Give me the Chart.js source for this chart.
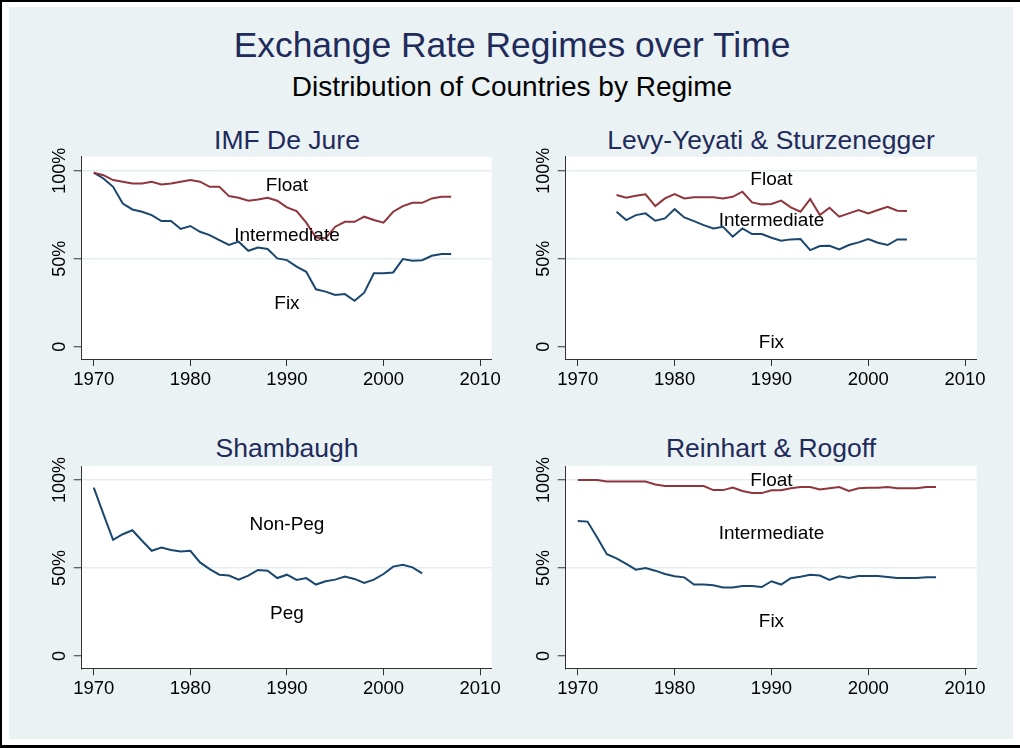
<!DOCTYPE html>
<html>
<head>
<meta charset="utf-8">
<script src="https://cdn.jsdelivr.net/npm/chart.js@4.4.1/dist/chart.umd.min.js"></script>
<style>
  html, body { margin: 0; padding: 0; background: #fff; overflow: hidden; }
  #frame { position: relative; width: 1020px; height: 748px; background: #fff; overflow: hidden;
           font-family: "Liberation Sans", Arial, sans-serif; }
  .edge { position: absolute; background: #000; }
  #bg { position: absolute; left: 9px; top: 7px; width: 1004px; height: 732px; background: #eaf2f3; }
  .ttl { position: absolute; text-align: center; line-height: 1; white-space: nowrap; }
  canvas { position: absolute; }
</style>
</head>
<body>
<div id="frame">
  <div class="edge" style="left:0;top:0;width:1020px;height:2px"></div>
  <div class="edge" style="left:0;top:0;width:2px;height:748px"></div>
  <div class="edge" style="left:0;top:745px;width:1020px;height:3px"></div>
  <div id="bg"></div>
  <div class="ttl" style="left:12px;width:1000px;top:28px;font-size:35.4px;color:#1f2b5a">Exchange Rate Regimes over Time</div>
  <div class="ttl" style="left:12px;width:1000px;top:73px;font-size:28px;color:#000">Distribution of Countries by Regime</div>
  <div class="ttl" style="left:-13px;width:600px;top:127px;font-size:26.5px;color:#1f2b5a">IMF De Jure</div>
  <div class="ttl" style="left:471px;width:600px;top:127px;font-size:26.5px;color:#1f2b5a">Levy-Yeyati &amp; Sturzenegger</div>
  <div class="ttl" style="left:-13px;width:600px;top:435px;font-size:26.5px;color:#1f2b5a">Shambaugh</div>
  <div class="ttl" style="left:471px;width:600px;top:435px;font-size:26.5px;color:#1f2b5a">Reinhart &amp; Rogoff</div>
  <canvas id="c1" width="480" height="255" style="left:30px;top:140px"></canvas>
  <canvas id="c2" width="480" height="255" style="left:515px;top:140px"></canvas>
  <canvas id="c3" width="480" height="255" style="left:30px;top:450px"></canvas>
  <canvas id="c4" width="480" height="255" style="left:515px;top:450px"></canvas>
</div>
<script>
// tick labels
const xTicks = [1970, 1980, 1990, 2000, 2010];
const yTicks = [0, 50, 100];

// IMF De Jure, 1970-2007 (% of countries, cumulative)
const imfYears = [1970, 1971, 1972, 1973, 1974, 1975, 1976, 1977, 1978, 1979,
  1980, 1981, 1982, 1983, 1984, 1985, 1986, 1987, 1988, 1989,
  1990, 1991, 1992, 1993, 1994, 1995, 1996, 1997, 1998, 1999,
  2000, 2001, 2002, 2003, 2004, 2005, 2006, 2007];
const imfFloat = [98.9, 97.5, 94.7, 93.8, 92.8, 92.8, 93.8, 92.2, 92.8, 93.8,
  94.7, 93.8, 90.9, 90.9, 85.6, 84.7, 83.0, 83.7, 84.7, 83.0,
  79.2, 77.1, 70.5, 62.1, 61.6, 68.2, 71.0, 71.0, 73.9, 72.0,
  70.5, 76.7, 79.9, 81.8, 81.8, 84.3, 85.2, 85.2];
const imfFix = [98.9, 95.6, 90.9, 81.4, 78.0, 76.7, 74.8, 71.4, 71.4, 66.9,
  68.6, 65.3, 63.4, 60.6, 57.8, 59.7, 54.5, 56.4, 55.5, 50.2,
  49.2, 45.5, 42.6, 32.6, 31.3, 29.4, 29.9, 26.1, 30.7, 41.7,
  41.7, 42.2, 49.8, 48.9, 49.2, 51.7, 52.7, 52.7];

// Levy-Yeyati & Sturzenegger, 1974-2004
const lysYears = [1974, 1975, 1976, 1977, 1978, 1979,
  1980, 1981, 1982, 1983, 1984, 1985, 1986, 1987, 1988, 1989,
  1990, 1991, 1992, 1993, 1994, 1995, 1996, 1997, 1998, 1999,
  2000, 2001, 2002, 2003, 2004];
const lysFloat = [86.2, 84.7, 85.8, 86.6, 79.9, 84.3,
  86.7, 84.3, 85.0, 85.0, 85.0, 84.3, 85.2, 88.1, 82.0, 80.9,
  81.1, 83.0, 79.2, 76.7, 83.9, 74.8, 79.0, 73.9, 75.8, 77.7,
  75.8, 77.7, 79.5, 77.3, 77.1];
const lysFix = [76.7, 72.0, 74.8, 75.8, 71.6, 72.9,
  78.2, 73.5, 71.4, 69.1, 67.2, 68.2, 62.5, 67.2, 64.0, 64.0,
  61.9, 60.2, 61.0, 61.2, 54.9, 57.2, 57.4, 55.3, 57.8, 59.3,
  61.2, 59.1, 57.8, 61.0, 61.0];

// Shambaugh, 1970-2004
const shYears = [1970, 1971, 1972, 1973, 1974, 1975, 1976, 1977, 1978, 1979,
  1980, 1981, 1982, 1983, 1984, 1985, 1986, 1987, 1988, 1989,
  1990, 1991, 1992, 1993, 1994, 1995, 1996, 1997, 1998, 1999,
  2000, 2001, 2002, 2003, 2004];
const shPeg = [95.7, 80.6, 66.0, 69.2, 71.5, 65.5, 59.8, 61.7, 60.2, 59.4,
  59.8, 53.2, 49.4, 46.2, 45.7, 43.4, 45.7, 48.9, 48.5, 44.3,
  46.2, 43.2, 44.3, 40.6, 42.5, 43.4, 45.1, 43.8, 41.5, 43.4,
  46.6, 50.8, 51.9, 50.4, 47.0];

// Reinhart & Rogoff, 1970-2007
const rrYears = imfYears;
const rrFloat = [100, 100, 100, 99.2, 99.2, 99.2, 99.2, 99.2, 97.5, 96.6,
  96.6, 96.6, 96.6, 96.6, 94.3, 94.3, 95.7, 93.8, 92.6, 92.6,
  94.2, 94.2, 95.3, 96.0, 96.0, 94.7, 95.3, 96.0, 93.8, 95.3,
  95.7, 95.7, 96.0, 95.3, 95.3, 95.3, 96.0, 96.0];
const rrFix = [76.8, 76.4, 67.4, 57.9, 55.5, 52.3, 49.1, 50.0, 48.5, 46.6,
  45.3, 44.7, 40.6, 40.6, 40.2, 38.9, 38.9, 39.8, 39.8, 39.2,
  42.5, 40.6, 44.2, 45.1, 46.2, 45.7, 43.2, 45.3, 44.3, 45.5,
  45.5, 45.5, 44.9, 44.3, 44.3, 44.3, 44.7, 44.7];

const RED = '#90353b';
const NAVY = '#1a476f';
const FONT = '"Liberation Sans", Arial, sans-serif';

// white plot region, rotated y labels, region names inside the plot
const plotDecor = {
    id: 'plotDecor',
    beforeDraw(chart) {
        const a = chart.chartArea;
        const ctx = chart.ctx;
        ctx.save();
        ctx.fillStyle = '#fff';
        ctx.fillRect(a.left, a.top, a.right - a.left, a.bottom - a.top);
        ctx.restore();
    },
    afterDraw(chart, args, opts) {
        const ctx = chart.ctx;
        const xs = chart.scales.x, ys = chart.scales.y;
        ctx.save();
        ctx.fillStyle = '#000';
        ctx.font = '18px ' + FONT;
        ctx.textAlign = 'center';
        ctx.textBaseline = 'alphabetic';
        yTicks.forEach(v => {
            ctx.save();
            ctx.translate(chart.chartArea.left - 16.7, ys.getPixelForValue(v));
            ctx.rotate(-Math.PI / 2);
            ctx.fillText(v === 0 ? '0' : v + '%', 0, 0);
            ctx.restore();
        });
        ctx.font = '19px ' + FONT;
        ctx.textBaseline = 'middle';
        (opts.labels || []).forEach(l => {
            ctx.fillText(l.text, xs.getPixelForValue(l.x), ys.getPixelForValue(l.y));
        });
        ctx.restore();
    }
};

function series(years, vals, color) {
    return {
        data: years.map((yr, i) => ({ x: yr, y: vals[i] })),
        borderColor: color,
        borderWidth: 2,
        pointRadius: 0,
        tension: 0,
        fill: false
    };
}

function makeChart(id, datasets, labels, pad) {
    new Chart(document.getElementById(id), {
        type: 'line',
        data: { datasets: datasets },
        plugins: [plotDecor],
        options: {
            responsive: false,
            animation: false,
            events: [],
            layout: { padding: { left: 0, top: pad.top, right: pad.right, bottom: 0 } },
            plugins: {
                legend: { display: false },
                title: { display: false },
                tooltip: { enabled: false },
                plotDecor: { labels: labels }
            },
            scales: {
                x: {
                    type: 'linear',
                    min: 1968.75,
                    max: 2011.2,
                    afterBuildTicks: s => { s.ticks = xTicks.map(v => ({ value: v })); },
                    afterFit: s => { s.height = pad.xh; },
                    grid: { drawOnChartArea: false, drawTicks: true, tickLength: 7, tickColor: '#333', tickWidth: 1 },
                    border: { display: true, color: '#333', width: 1 },
                    ticks: {
                        color: '#000',
                        font: { family: FONT, size: 18.5 },
                        padding: 3,
                        maxRotation: 0,
                        autoSkip: false,
                        callback: v => String(v)
                    }
                },
                y: {
                    type: 'linear',
                    min: -7,
                    max: 108,
                    afterBuildTicks: s => { s.ticks = yTicks.map(v => ({ value: v })); },
                    afterFit: s => { s.width = pad.yw; },
                    grid: {
                        color: c => (c.tick && c.tick.value === 0) ? 'rgba(0,0,0,0)' : '#e4eef0',
                        lineWidth: 1.5,
                        drawTicks: true,
                        tickLength: 8,
                        tickColor: '#333',
                        tickWidth: 1
                    },
                    border: { display: true, color: '#333', width: 1 },
                    ticks: { display: false }
                }
            }
        }
    });
}

makeChart('c1',
    [series(imfYears, imfFloat, RED), series(imfYears, imfFix, NAVY)],
    [{ text: 'Float', x: 1990, y: 91.6 }, { text: 'Intermediate', x: 1990, y: 63 }, { text: 'Fix', x: 1990, y: 24.4 }],
    { top: 16.7, right: 18.3, yw: 51.7, xh: 36 });

makeChart('c2',
    [series(lysYears, lysFloat, RED), series(lysYears, lysFix, NAVY)],
    [{ text: 'Float', x: 1990, y: 95.1 }, { text: 'Intermediate', x: 1990, y: 71.5 }, { text: 'Fix', x: 1990, y: 2.1 }],
    { top: 16.7, right: 18.3, yw: 50.7, xh: 36 });

makeChart('c3',
    [series(shYears, shPeg, NAVY)],
    [{ text: 'Non-Peg', x: 1990, y: 74.5 }, { text: 'Peg', x: 1990, y: 24.2 }],
    { top: 16, right: 18.3, yw: 51.7, xh: 36.7 });

makeChart('c4',
    [series(rrYears, rrFloat, RED), series(rrYears, rrFix, NAVY)],
    [{ text: 'Float', x: 1990, y: 99.4 }, { text: 'Intermediate', x: 1990, y: 69.3 }, { text: 'Fix', x: 1990, y: 19.2 }],
    { top: 16, right: 18.3, yw: 50.7, xh: 36.7 });
</script>
</body>
</html>
